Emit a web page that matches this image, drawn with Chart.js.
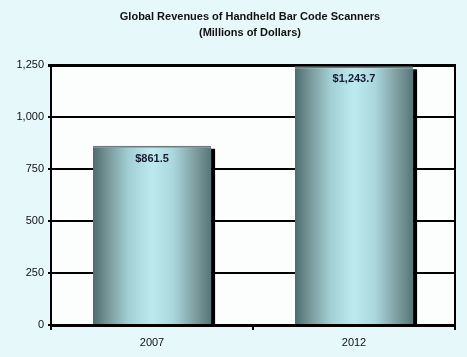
<!DOCTYPE html>
<html><head><meta charset="utf-8">
<script src="https://cdn.jsdelivr.net/npm/chart.js@4"></script>
<style>
html,body{margin:0;padding:0;background:#e7f8fa;}
#wrap{width:467px;height:357px;position:relative;}
</style></head>
<body><div id="wrap"><canvas id="c" width="467" height="357"></canvas></div>
<script>
const categories = ["2007", "2012"];
const revenues = [861.5, 1243.7];
const valueLabels = ["$861.5", "$1,243.7"];
const yTicks = [0, 250, 500, 750, 1000, 1250];
const titleLines = ["Global Revenues of Handheld Bar Code Scanners", "(Millions of Dollars)"];

const FONT = "'Liberation Sans', Arial, sans-serif";
const BAR_PCT = 0.585;

const plotBg = {
  id: 'plotBg',
  beforeDraw(chart) {
    const {ctx, chartArea: a} = chart;
    ctx.save();
    ctx.fillStyle = '#fbfefd';
    ctx.fillRect(a.left, a.top, a.right - a.left, a.bottom - a.top);
    ctx.restore();
  },
  afterDraw(chart) {
    const {ctx, chartArea: a} = chart;
    ctx.save();
    ctx.font = 'bold 11px ' + FONT;
    ctx.fillStyle = '#111';
    ctx.textAlign = 'center';
    ctx.textBaseline = 'middle';
    const cx = (a.left + a.right) / 2 - 3;
    titleLines.forEach((t, i) => ctx.fillText(t, cx, 17 + i * 16));
    ctx.restore();
  }
};

function barGradient(c) {
  const chart = c.chart;
  const xs = chart.scales.x;
  if (!chart.chartArea || !xs || c.dataIndex === undefined) return '#9cc';
  const cx = xs.getPixelForValue(c.dataIndex);
  const w = (xs.right - xs.left) / categories.length * BAR_PCT;
  const l = cx - w / 2, r = cx + w / 2;
  const g = chart.ctx.createLinearGradient(l, 0, r, 0);
  g.addColorStop(0, '#4c6c6e');
  g.addColorStop(0.12, '#769597');
  g.addColorStop(0.3, '#a2cfd3');
  g.addColorStop(0.5, '#bdeaee');
  g.addColorStop(0.68, '#aad7dc');
  g.addColorStop(0.88, '#7a999b');
  g.addColorStop(1, '#587678');
  return g;
}

const barStyle = {
  id: 'barStyle',
  beforeDatasetsDraw(chart) {
    const ctx = chart.ctx;
    const meta = chart.getDatasetMeta(0);
    meta.data.forEach(el => {
      const r = el.x + el.width / 2;
      ctx.save();
      ctx.fillStyle = '#000';
      ctx.fillRect(r, el.y + 3, 4, el.base - el.y - 3);
      ctx.restore();
    });
  },
  afterDatasetsDraw(chart) {
    const ctx = chart.ctx;
    const meta = chart.getDatasetMeta(0);
    ctx.save();
    ctx.font = 'bold 11px ' + FONT;
    ctx.fillStyle = '#1a1a36';
    ctx.textAlign = 'center';
    ctx.textBaseline = 'middle';
    meta.data.forEach((el, i) => {
      ctx.fillText(valueLabels[i], el.x, el.y + 13);
    });
    ctx.restore();
  }
};

new Chart(document.getElementById('c'), {
  type: 'bar',
  data: {
    labels: categories,
    datasets: [{
      data: revenues,
      backgroundColor: barGradient,
      borderColor: '#6a7d7e',
      borderWidth: {top: 2, left: 0, right: 0, bottom: 0},
      borderSkipped: false,
      categoryPercentage: 1,
      barPercentage: BAR_PCT
    }]
  },
  options: {
    responsive: false,
    animation: false,
    layout: {padding: {left: 0, right: 12, top: 65, bottom: 0}},
    plugins: {
      legend: {display: false},
      tooltip: {enabled: false},
      title: {display: false}
    },
    scales: {
      x: {
        offset: true,
        grid: {display: true, drawOnChartArea: false, color: '#000', tickLength: 5, lineWidth: 2, offset: true},
        border: {display: true, color: '#000', width: 3},
        ticks: {color: '#111', font: {family: FONT, size: 11}, padding: 6},
        afterFit(s) { s.height = 32; }
      },
      y: {
        min: 0, max: 1250,
        afterBuildTicks(s) { s.ticks = yTicks.map(v => ({value: v})); },
        grid: {color: '#000', lineWidth: c => (c.tick && c.tick.value === 1250) ? 3 : 2, tickLength: 3},
        border: {display: true, color: '#000', width: 2},
        ticks: {color: '#111', font: {family: FONT, size: 11}, padding: 4,
                callback: v => v.toLocaleString('en-US')},
        afterFit(s) { s.width = 51; }
      },
      y2: {
        position: 'right',
        min: 0, max: 1250,
        grid: {display: false},
        ticks: {display: false},
        border: {display: true, color: '#000', width: 2},
        afterFit(s) { s.width = 0; }
      }
    }
  },
  plugins: [plotBg, barStyle]
});
</script></body></html>
